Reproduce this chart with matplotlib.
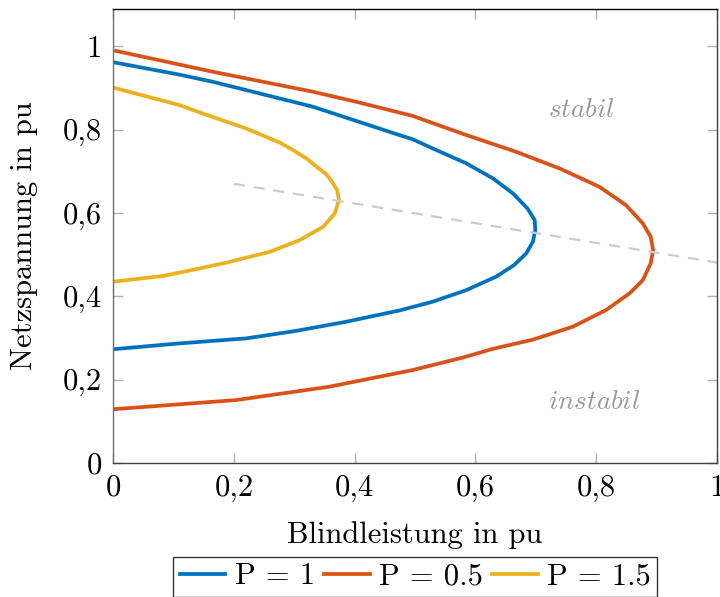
import matplotlib
matplotlib.use('Agg')
import matplotlib.pyplot as plt

# Q-U Kennlinien (Blindleistung / Netzspannung) fuer drei Wirkleistungen
q_p1 = [0.0, 0.110, 0.165, 0.331, 0.474, 0.496, 0.529, 0.585, 0.629, 0.662, 0.686, 0.698, 0.699,
        0.695, 0.684, 0.664, 0.634, 0.585, 0.529, 0.474, 0.386, 0.303, 0.220, 0.110, 0.0]
u_p1 = [0.962, 0.932, 0.915, 0.855, 0.787, 0.777, 0.755, 0.719, 0.683, 0.647, 0.611, 0.583, 0.559,
        0.531, 0.503, 0.475, 0.447, 0.415, 0.387, 0.366, 0.339, 0.317, 0.299, 0.287, 0.273]

q_p05 = [0.005, 0.165, 0.331, 0.408, 0.496, 0.585, 0.667, 0.739, 0.805, 0.849, 0.877, 0.890, 0.894,
         0.890, 0.877, 0.855, 0.816, 0.761, 0.695, 0.629, 0.579, 0.496, 0.358, 0.204, 0.0]
u_p05 = [0.989, 0.939, 0.891, 0.865, 0.833, 0.787, 0.747, 0.707, 0.663, 0.619, 0.575, 0.543, 0.511,
         0.479, 0.439, 0.407, 0.367, 0.327, 0.296, 0.274, 0.253, 0.223, 0.183, 0.151, 0.129]

q_p15 = [0.0, 0.110, 0.144, 0.220, 0.276, 0.298, 0.320, 0.337, 0.353, 0.361, 0.371, 0.374,
         0.367, 0.348, 0.309, 0.260, 0.188, 0.144, 0.083, 0.0]
u_p15 = [0.901, 0.859, 0.841, 0.803, 0.769, 0.751, 0.731, 0.711, 0.693, 0.678, 0.655, 0.631,
         0.599, 0.567, 0.535, 0.507, 0.481, 0.467, 0.449, 0.435]

# Grenze stabil / instabil
q_grenze = [0.2, 1.0]
u_grenze = [0.670, 0.481]

ticks = [0, 0.2, 0.4, 0.6, 0.8, 1]
tick_labels = ['0', '0,2', '0,4', '0,6', '0,8', '1']

plt.rcParams['font.family'] = 'cmr10'
plt.rcParams['mathtext.fontset'] = 'cm'
plt.rcParams['axes.formatter.use_mathtext'] = True

fs = 22

fig = plt.figure(figsize=(7.2, 5.97), dpi=100)
ax = fig.add_axes([0.157, 0.2245, 0.839, 0.76])

ax.plot(q_p1, u_p1, color='#0072BD', lw=2.7, label='P = 1')
ax.plot(q_p05, u_p05, color='#D95319', lw=2.7, label='P = 0.5')
ax.plot(q_p15, u_p15, color='#EDB120', lw=2.7, label='P = 1.5')
ax.plot(q_grenze, u_grenze, color='#cccccc', lw=1.6, dashes=(5, 4))

ax.text(0.775, 0.847, r'$stabil$', color='#999999', fontsize=19.5, ha='center', va='center')
ax.text(0.797, 0.147, r'$instabil$', color='#999999', fontsize=19.5, ha='center', va='center')

ax.set_xlim(0, 1)
ax.set_ylim(0, 1.089)
ax.set_xticks(ticks)
ax.set_xticklabels(tick_labels)
ax.set_yticks(ticks)
ax.set_yticklabels(tick_labels)
ax.tick_params(direction='in', length=7, width=1, color='#b0b0b0',
               top=True, right=True, labelsize=fs, pad=8)

for side, c in [('left', '#707070'), ('bottom', '#404040'), ('top', '#000000'), ('right', '#404040')]:
    ax.spines[side].set_color(c)
    ax.spines[side].set_linewidth(1)

ax.set_xlabel('Blindleistung in pu', fontsize=fs, labelpad=14)
ax.set_ylabel('Netzspannung in pu', fontsize=fs, labelpad=18)

# Legende mittig unter der Achse
leg = ax.legend(loc='upper center', bbox_to_anchor=(0.5, -0.207), bbox_transform=ax.transAxes,
                ncol=3, fontsize=fs, frameon=True, fancybox=False, edgecolor='black',
                handlelength=1.5, handletextpad=0.3, columnspacing=0.3,
                borderpad=0.2, borderaxespad=0)
leg.get_frame().set_linewidth(1)

fig.savefig('out.png', dpi=100)
